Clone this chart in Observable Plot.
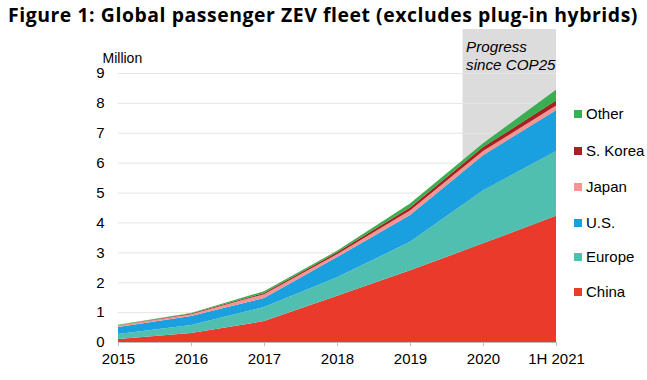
<!DOCTYPE html>
<html><head><meta charset="utf-8">
<script src="https://cdn.jsdelivr.net/npm/d3@7"></script>
<script src="https://cdn.jsdelivr.net/npm/@observablehq/plot@0.6"></script>
<style>
body{margin:0;background:#fff;width:647px;height:380px;overflow:hidden;position:relative;font-family:"Liberation Sans",Arial,sans-serif;}
#title{height:28px;line-height:30px;font-family:"Open Sans","Liberation Sans",sans-serif;font-weight:700;font-size:19.4px;padding-left:8px;white-space:nowrap;letter-spacing:0.56px;color:#000}
#legend{position:absolute;left:574px;top:0;}
.li{position:absolute;left:0;white-space:nowrap;font-size:15px;color:#000;}
.li span.sw{display:inline-block;width:8px;height:8px;margin-right:4px;vertical-align:middle;position:relative;top:-1px}
</style></head><body>
<div id="title">Figure 1: Global passenger ZEV fleet (excludes plug-in hybrids)</div>
<div id="chart"></div>
<div id="legend"></div>
<script>
const years = ["2015","2016","2017","2018","2019","2020","1H 2021"];
const seriesNames = ["China","Europe","U.S.","Japan","S. Korea","Other"];
const china  = [0.10,0.30,0.70,1.55,2.40,3.30,4.22];
const europe = [0.17,0.27,0.47,0.62,0.95,1.78,2.17];
const us     = [0.23,0.30,0.30,0.67,0.90,1.17,1.36];
const japan  = [0.05,0.06,0.13,0.10,0.15,0.14,0.16];
const korea  = [0.01,0.02,0.04,0.06,0.10,0.13,0.17];
const other  = [0.02,0.02,0.06,0.05,0.13,0.13,0.36];
const colors = ["#EA3A2C","#50BFB0","#1AA0DF","#F39592","#A52222","#3AAE50"];
const yTicks = [0,1,2,3,4,5,6,7,8,9];
const bandStart = 4.72, bandTop = 10.47;
const bandLabel = ["Progress","since COP25"];
const bandLabelY = [9.87, 9.27];

const seriesVals = [china,europe,us,japan,korea,other];
const data = [];
seriesNames.forEach((s,si)=>years.forEach((y,i)=>data.push({i, year:y, series:s, value:seriesVals[si][i]})));
const xIdx = years.map((d,i)=>i);

const plot = Plot.plot({
  width: 647, height: 352,
  marginLeft: 118, marginRight: 91, marginTop: 45, marginBottom: 38,
  style: {fontFamily: '"Liberation Sans",Arial,sans-serif', fontSize: "15px", color:"#000"},
  x: {type:"linear", domain:[0,6], axis:null},
  y: {type:"linear", domain:[0,9], axis:null},
  color: {domain: seriesNames, range: colors},
  marks: [
    Plot.rect([0], {x1: ()=>bandStart, x2: ()=>6, y1: ()=>0, y2: ()=>bandTop, fill:"#DCDCDC"}),
    Plot.ruleY(yTicks.slice(1), {x1:()=>0, x2:()=>6, y:d=>d, stroke:"#E6E6E6", strokeWidth:1}),
    Plot.areaY(data, {x:"i", y:"value", fill:"series", order: seriesNames, curve:"linear"}),
    Plot.ruleY([0], {x1:()=>0, x2:()=>6, y:d=>d, stroke:"#BDBDBD", strokeWidth:1}),
    Plot.ruleX(xIdx, {x:d=>d, y1:()=>0, y2:()=>-0.14, stroke:"#BDBDBD", strokeWidth:1}),
    Plot.text(yTicks, {x:()=>0, y:d=>d, text:d=>String(d), textAnchor:"end", dx:-14, fontSize:15}),
    Plot.text(years, {x:(d,i)=>i, y:()=>0, text:d=>d, dy:17, fontSize:15}),
    Plot.text(["Million"], {x:()=>0, y:()=>9, text:d=>d, textAnchor:"start", dx:-16, dy:-15, fontSize:14}),
    Plot.text(bandLabel, {x:()=>bandStart, y:(d,i)=>bandLabelY[i], text:d=>d, textAnchor:"start", dx:3, fontStyle:"italic", fontSize:15.2})
  ]
});
document.getElementById("chart").appendChild(plot);

const legend = document.getElementById("legend");
const legendY = {"Other":114,"S. Korea":151,"Japan":187,"U.S.":223,"Europe":257,"China":292};
seriesNames.forEach((s,i)=>{
  const d = document.createElement("div");
  d.className="li";
  d.style.top = (legendY[s]-9)+"px";
  d.innerHTML = `<span class="sw" style="background:${colors[i]}"></span>${s}`;
  legend.appendChild(d);
});
</script>
</body></html>
